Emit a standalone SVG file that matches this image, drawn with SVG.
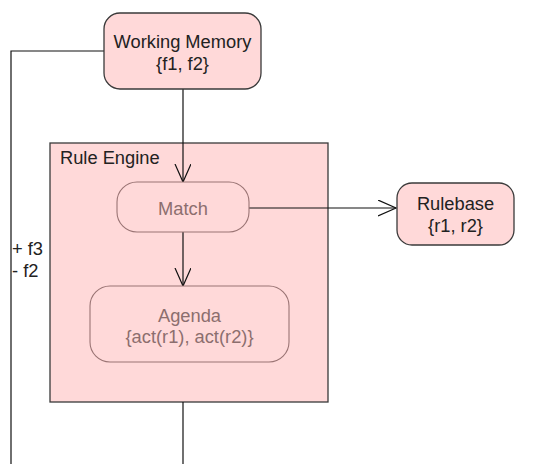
<svg xmlns="http://www.w3.org/2000/svg" width="539" height="464" viewBox="0 0 539 464">
<defs>
<style>
.node{fill:#ffd9d9;stroke:#3a3a3a;stroke-width:1.3}
.inner{fill:#ffd9d9;stroke:#9a7474;stroke-width:1.1}
.t{font-family:"Liberation Sans",Arial,sans-serif;font-size:18.3px;fill:#222}
.g{font-family:"Liberation Sans",Arial,sans-serif;font-size:18.3px;fill:#8c6e6e}
.c{fill:none;stroke:#111;stroke-width:1.2}
</style>
<marker id="arr" markerWidth="20" markerHeight="20" refX="18" refY="8" orient="auto" markerUnits="userSpaceOnUse">
<path d="M0,0 L18,8 L0,16" fill="none" stroke="#111" stroke-width="1.2"/>
</marker>
</defs>
<rect width="539" height="464" fill="#fff"/>
<g id="rule-engine">
<rect x="50" y="143" width="278" height="259" class="node"/>
<text x="60" y="164" class="t">Rule Engine</text>
</g>
<g id="connectors">
<path class="c" d="M104,51 H11 V464"/>
<path class="c" d="M183,89 V182" marker-end="url(#arr)"/>
<path class="c" d="M183,232 V286" marker-end="url(#arr)"/>
<path class="c" d="M249,208 H396" marker-end="url(#arr)"/>
<path class="c" d="M183,402 V464"/>
<text x="12" y="255" class="t">+ f3</text>
<text x="12" y="277" class="t">- f2</text>
</g>
<g id="working-memory">
<rect x="104" y="13" width="157" height="76" rx="16" class="node"/>
<text x="182.5" y="48" text-anchor="middle" class="t">Working Memory</text>
<text x="182.5" y="70" text-anchor="middle" class="t">{f1, f2}</text>
</g>
<g id="match">
<rect x="117" y="182" width="132" height="50" rx="20" class="inner"/>
<text x="183" y="215" text-anchor="middle" class="g">Match</text>
</g>
<g id="agenda">
<rect x="90" y="286" width="199" height="76" rx="20" class="inner"/>
<text x="189.5" y="322" text-anchor="middle" class="g">Agenda</text>
<text x="189.5" y="343" text-anchor="middle" class="g">{act(r1), act(r2)}</text>
</g>
<g id="rulebase">
<rect x="397" y="183" width="117" height="62" rx="15" class="node"/>
<text x="455.5" y="210" text-anchor="middle" class="t">Rulebase</text>
<text x="455.5" y="232" text-anchor="middle" class="t">{r1, r2}</text>
</g>
</svg>
